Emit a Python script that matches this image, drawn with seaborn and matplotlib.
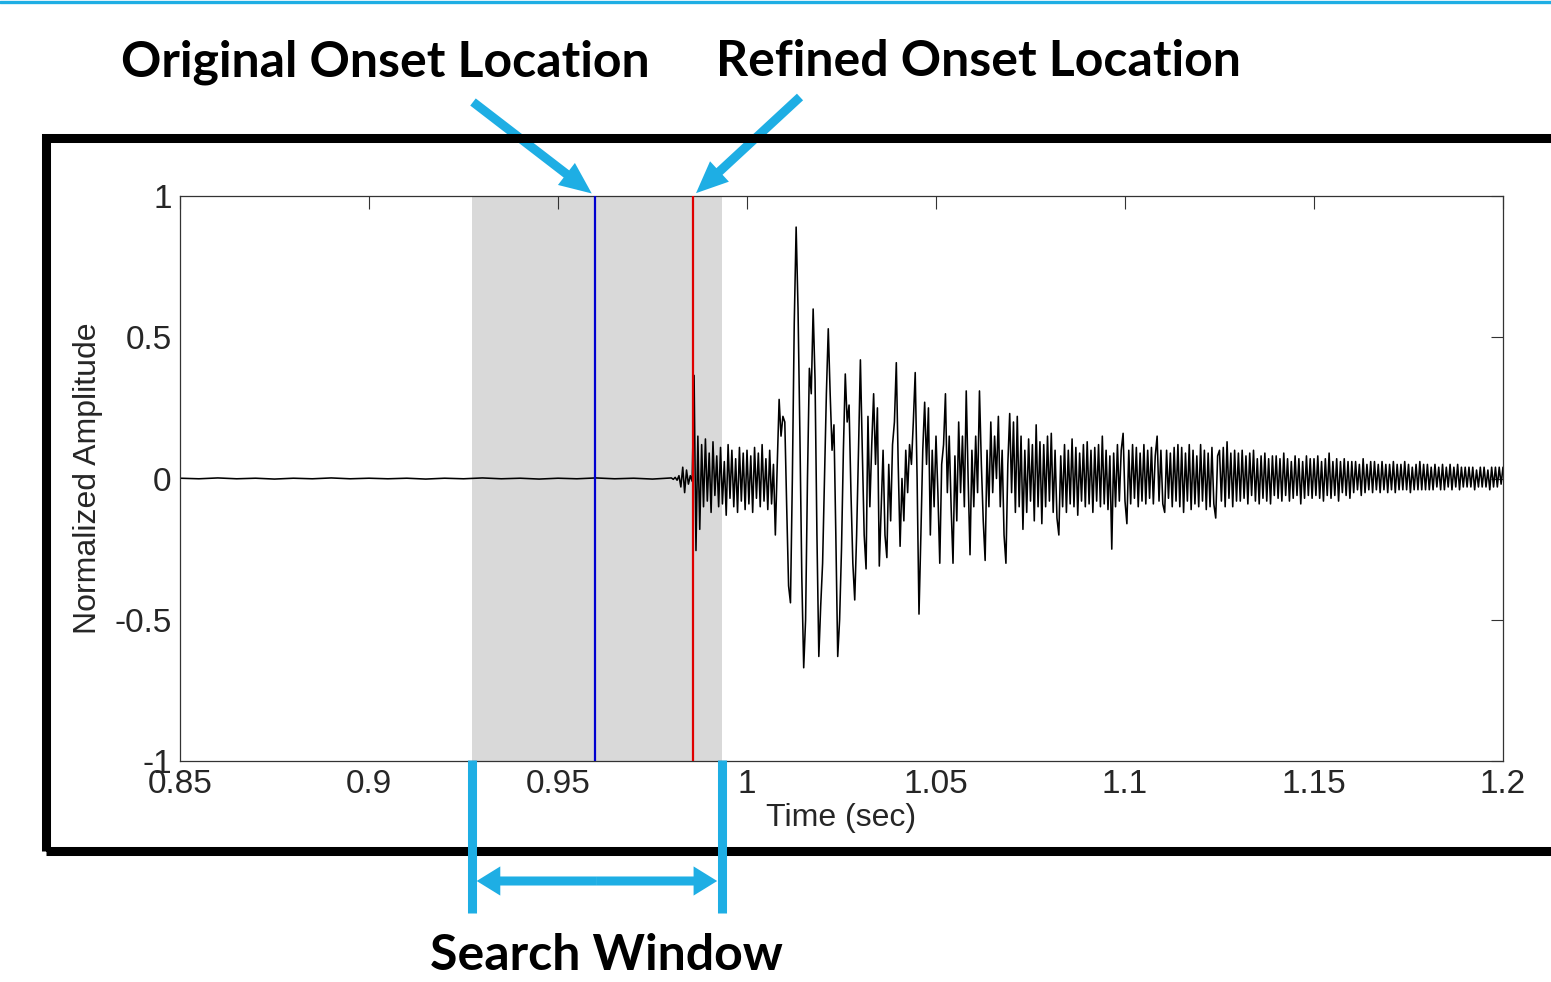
import numpy as np
import pandas as pd
import matplotlib
matplotlib.use("Agg")
import matplotlib.pyplot as plt
import matplotlib.transforms as mtransforms
from matplotlib.patches import FancyArrowPatch, Rectangle
from matplotlib.lines import Line2D
import seaborn as sns

# ---------------- data ----------------
quiet_start = 0.85          # s, quiet pre-event part, one sample every 5 ms
quiet_step = 0.005
quiet_amp = [0.001, -0.001, 0.002, -0.001, 0.001, -0.002, 0.001, -0.001, 0.002, -0.001,
             0.001, -0.001, 0.001, -0.002, 0.001, -0.001, 0.002, -0.001, 0.001, -0.002,
             0.001, -0.001, 0.002, -0.001, 0.001, -0.002]

event_start = 0.98          # s, event part, one sample every 0.5 ms
event_step = 0.0005
event_amp = [
    0.002, -0.003, 0.004, -0.006, 0.01, -0.03, 0.04, -0.05, 0.03, -0.02,
    0.01, -0.01, 0.365, -0.255, 0.15, -0.18, 0.12, -0.1, 0.14, -0.08,
    0.09, -0.12, 0.13, -0.06, 0.08, -0.1, 0.11, -0.09, 0.06, -0.13,
    0.12, -0.07, 0.1, -0.1, 0.07, -0.12, 0.11, -0.08, 0.09, -0.11,
    0.1, -0.09, 0.08, -0.12, 0.11, -0.07, 0.09, -0.1, 0.12, -0.08,
    0.07, -0.11, 0.1, -0.09, 0.05, -0.2, 0.05, 0.28, 0.15, 0.22,
    0.2, -0.1, -0.38, -0.44, 0.0, 0.55, 0.89, 0.6, 0.15, -0.35,
    -0.67, -0.5, 0.0, 0.39, 0.3, 0.6, 0.35, -0.2, -0.63, -0.45,
    -0.3, 0.0, 0.3, 0.53, 0.3, 0.1, 0.19, -0.2, -0.63, -0.5,
    -0.25, 0.1, 0.37, 0.2, 0.26, -0.05, -0.3, -0.43, -0.2, 0.1,
    0.42, 0.1, -0.2, -0.32, 0.22, -0.1, 0.12, 0.3, 0.05, 0.25,
    -0.31, -0.1, 0.1, -0.2, -0.28, 0.05, -0.15, 0.12, 0.2, 0.41,
    0.05, -0.24, 0.0, -0.15, 0.1, -0.05, 0.12, 0.05, 0.2, 0.375,
    0.0, -0.48, -0.2, 0.1, 0.27, 0.05, 0.25, -0.2, 0.1, -0.1,
    0.15, -0.05, -0.3, 0.05, 0.12, 0.3, -0.05, 0.15, -0.1, -0.3,
    0.08, -0.15, 0.2, -0.05, 0.15, -0.1, 0.31, 0.0, -0.27, 0.1,
    -0.1, 0.15, -0.05, 0.31, 0.05, -0.15, -0.29, 0.1, -0.1, 0.2,
    -0.05, 0.15, 0.0, 0.22, -0.1, 0.1, -0.2, -0.3, 0.05, 0.23,
    -0.05, 0.2, -0.12, 0.22, -0.1, 0.15, -0.18, 0.1, -0.12, 0.14,
    -0.08, 0.12, -0.15, 0.19, -0.1, 0.13, -0.16, 0.12, -0.1, 0.15,
    -0.08, 0.16, -0.12, 0.1, -0.14, -0.2, 0.08, -0.1, 0.12, -0.12,
    0.1, -0.09, 0.14, -0.1, 0.11, -0.13, 0.09, -0.08, 0.12, -0.1,
    0.13, -0.09, 0.1, -0.12, 0.11, -0.08, 0.12, -0.1, 0.15, -0.09,
    0.1, -0.11, 0.08, -0.25, 0.09, -0.1, 0.12, -0.08, 0.1, 0.16,
    -0.08, -0.16, 0.1, -0.09, 0.12, -0.07, 0.11, -0.1, 0.09, -0.08,
    0.12, -0.09, 0.1, -0.07, 0.11, -0.09, 0.08, 0.15, -0.08, 0.1,
    -0.09, -0.12, 0.1, -0.07, 0.09, -0.1, 0.11, -0.08, 0.12, -0.1,
    0.11, -0.12, 0.09, -0.08, 0.12, -0.11, 0.1, -0.09, 0.08, -0.1,
    0.12, -0.08, 0.1, -0.11, 0.09, -0.1, 0.11, -0.09, -0.14, 0.08,
    0.1, -0.08, 0.11, -0.1, 0.13, -0.07, 0.09, -0.1, 0.1, -0.08,
    0.09, -0.08, 0.1, -0.07, 0.08, -0.09, 0.09, -0.06, 0.1, -0.08,
    0.07, -0.09, 0.08, -0.07, 0.09, -0.08, 0.07, -0.09, 0.08, -0.06,
    0.08, -0.07, 0.07, -0.08, 0.09, -0.06, 0.07, -0.08, 0.06, -0.07,
    0.08, -0.06, 0.07, -0.09, 0.06, -0.07, 0.08, -0.06, 0.07, -0.07,
    0.07, -0.06, 0.08, -0.07, 0.06, -0.08, 0.07, -0.06, 0.09, -0.07,
    0.06, -0.06, 0.07, -0.08, 0.06, -0.05, 0.07, -0.06, 0.06, -0.07,
    0.06, -0.05, 0.06, -0.04, 0.05, -0.06, 0.07, -0.05, 0.05, -0.04,
    0.06, -0.05, 0.06, -0.04, 0.05, -0.05, 0.06, -0.04, 0.05, -0.05,
    0.05, -0.04, 0.06, -0.05, 0.05, -0.04, 0.05, -0.04, 0.06, -0.04,
    0.05, -0.05, 0.04, -0.04, 0.05, -0.04, 0.06, -0.04, 0.05, -0.04,
    0.05, -0.04, 0.04, -0.04, 0.05, -0.03, 0.04, -0.04, 0.05, -0.04,
    0.04, -0.03, 0.05, -0.04, 0.04, -0.03, 0.05, -0.04, 0.04, -0.03,
    0.04, -0.03, 0.04, -0.03, 0.04, -0.04, 0.03, -0.03, 0.04, -0.03,
    0.04, -0.03, 0.03, -0.04, 0.04, -0.03, 0.04, -0.03, 0.04, -0.02, 0.04,
]

orig_onset = 0.9598
refined_onset = 0.9857
window_start = 0.9272
window_end = 0.9934

x_ticks = [0.85, 0.90, 0.95, 1.00, 1.05, 1.10, 1.15, 1.20]
x_tick_labels = ["0.85", "0.9", "0.95", "1", "1.05", "1.1", "1.15", "1.2"]
y_ticks = [-1, -0.5, 0, 0.5, 1]
y_tick_labels = ["-1", "-0.5", "0", "0.5", "1"]

# ---------------- build frame ----------------
quiet_time = quiet_start + quiet_step * np.arange(len(quiet_amp))
event_time = event_start + event_step * np.arange(len(event_amp))
df = pd.DataFrame({
    "time": np.concatenate([quiet_time, event_time]),
    "amplitude": np.concatenate([quiet_amp, event_amp]),
})

# ---------------- style ----------------
sns.set_style("white")
plt.rcParams["font.family"] = ["Liberation Sans", "DejaVu Sans"]

W, H = 1551, 982
fig = plt.figure(figsize=(W / 100, H / 100), dpi=100)
fig.patch.set_facecolor("white")


def fx(px):
    return px / W


def fy(py):
    return 1 - py / H


ax = fig.add_axes([fx(180), fy(761), fx(1503) - fx(180), fy(196) - fy(761)])

CYAN = "#1EAEE4"

ax.axvspan(window_start, window_end, color="#d9d9d9", lw=0, zorder=0)
sns.lineplot(data=df, x="time", y="amplitude", color="black", lw=1.15,
             estimator=None, sort=False, ax=ax, zorder=2)
ax.axvline(orig_onset, color="#0000d0", lw=1.6, zorder=3)
ax.axvline(refined_onset, color="#e00000", lw=1.6, zorder=3)

ax.set_xlim(0.85, 1.2)
ax.set_ylim(-1, 1)
ax.set_xticks(x_ticks)
ax.set_xticklabels(x_tick_labels)
ax.set_yticks(y_ticks)
ax.set_yticklabels(y_tick_labels)
ax.tick_params(direction="in", length=9, width=0.8, color="#333333",
               labelsize=24, top=True, right=True, pad=6)
for sp in ax.spines.values():
    sp.set_visible(True)
    sp.set_color("#333333")
    sp.set_linewidth(0.9)

ax.set_xlabel("Time (sec)", fontsize=23)
ax.set_ylabel("Normalized Amplitude", fontsize=23)
ax.xaxis.label.set_va("center")
ax.yaxis.label.set_va("center")
ax.xaxis.set_label_coords(0.5, (761 - 818) / 565)
ax.yaxis.set_label_coords((88 - 180) / 1323, 0.5)

# ---------------- decorations ----------------
# top cyan rule
fig.add_artist(Line2D([0, 1], [fy(1.5), fy(1.5)], transform=fig.transFigure,
                      color=CYAN, lw=2.4))
# black frame
fig.add_artist(Rectangle((fx(46), fy(851)), 1.2, fy(137.5) - fy(851),
                         transform=fig.transFigure, fill=False,
                         edgecolor="black", lw=6.5, zorder=5))

title_font = dict(family=["Lato", "DejaVu Sans"], fontweight="bold",
                  fontsize=36, color="black", ha="center", va="center")
fig.text(fx(385), fy(62), "Original Onset Location", **title_font)
fig.text(fx(978), fy(62), "Refined Onset Location", **title_font)
fig.text(fx(606), fy(955), "Search Window", **title_font)

top_style = "simple,head_length=2.3,head_width=2.0,tail_width=0.65"
ax.annotate("", xy=(orig_onset, 1.0), xycoords="data",
            xytext=(fx(473), fy(102)), textcoords="figure fraction",
            annotation_clip=False,
            arrowprops=dict(arrowstyle=top_style, mutation_scale=10,
                            color=CYAN, lw=0, shrinkA=0, shrinkB=3))
ax.annotate("", xy=(refined_onset, 1.0), xycoords="data",
            xytext=(fx(800), fy(97)), textcoords="figure fraction",
            annotation_clip=False,
            arrowprops=dict(arrowstyle=top_style, mutation_scale=10,
                            color=CYAN, lw=0, shrinkA=0, shrinkB=3))

blend = mtransforms.blended_transform_factory(ax.transData, fig.transFigure)
for xv in (window_start, window_end):
    fig.add_artist(Line2D([xv, xv], [fy(760), fy(913)], transform=blend,
                          color=CYAN, lw=6.5, solid_capstyle="butt", zorder=6))

mid = (window_start + window_end) / 2
bot_style = "simple,head_length=1.7,head_width=2.1,tail_width=0.65"
for end in (window_start, window_end):
    fig.add_artist(FancyArrowPatch((mid, fy(881)), (end, fy(881)),
                                   transform=blend, arrowstyle=bot_style,
                                   mutation_scale=10, color=CYAN, lw=0,
                                   shrinkA=0, shrinkB=3.5, zorder=6))

fig.savefig("out.png", dpi=100, facecolor="white")
